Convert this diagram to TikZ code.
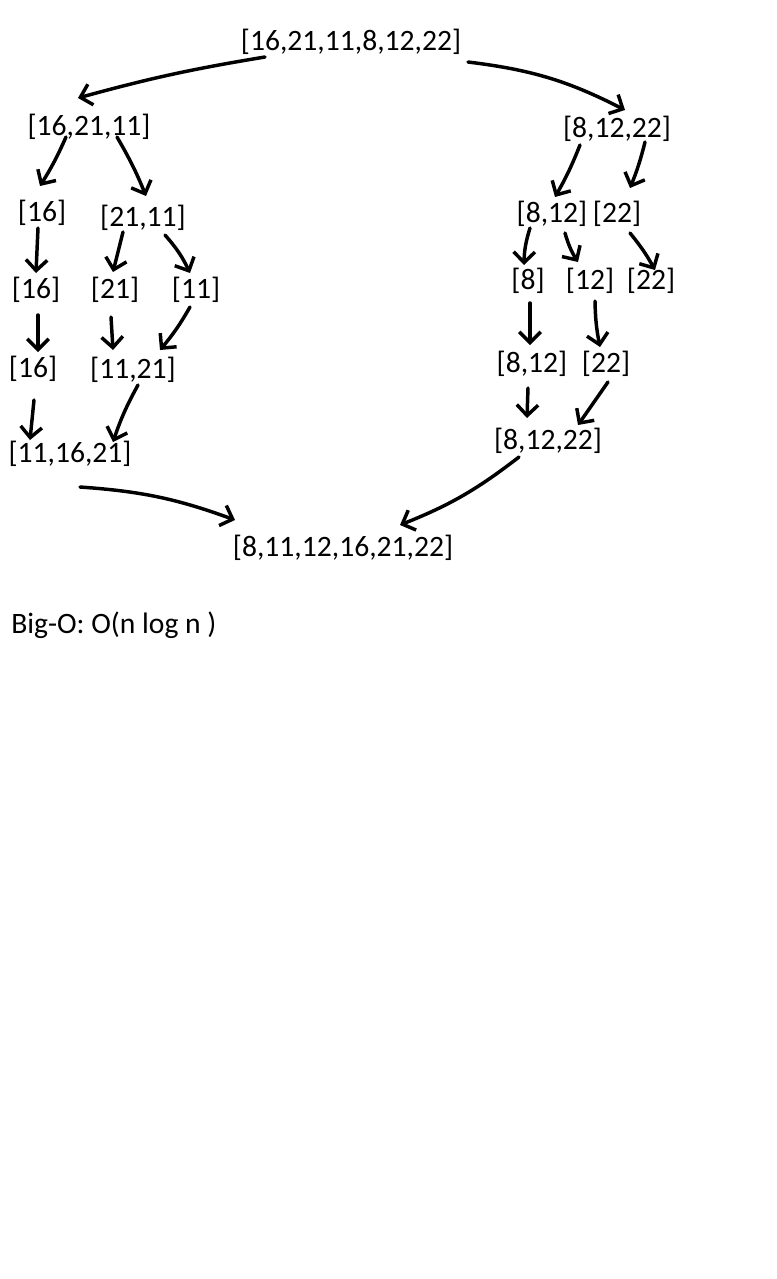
\documentclass[tikz,border=0pt]{standalone}
\usepackage{fontspec}
\setmainfont{Carlito}
\usetikzlibrary{arrows.meta}

\tikzset{
  lbl/.style={inner sep=0pt, font=\fontsize{22.2}{26}\selectfont},
  arr/.style={-{Straight Barb[length=8pt,width=16pt]}, line width=2.6pt, line cap=round, line join=round}
}

\begin{document}
\begin{tikzpicture}[x=0.75pt,y=0.75pt]
\useasboundingbox (0,0) rectangle (776,-1279);

\node[lbl] (T) at (351,-42) {[16,21,11,8,12,22]};
\node[lbl] (L) at (89,-127) {[16,21,11]};
\node[lbl] (R) at (617,-129) {[8,12,22]};

\node[lbl] (La) at (42,-213) {[16]};
\node[lbl] (Lb) at (143,-218) {[21,11]};
\node[lbl] (Ra) at (552,-214) {[8,12]};
\node[lbl] (Rb) at (617,-214) {[22]};

\node[lbl] (La1) at (36,-290) {[16]};
\node[lbl] (Lb1) at (115,-290) {[21]};
\node[lbl] (Lb2) at (196,-290) {[11]};
\node[lbl] (Ra1) at (528,-281) {[8]};
\node[lbl] (Ra2) at (590,-281) {[12]};
\node[lbl] (Rb1) at (651,-281) {[22]};

\node[lbl] (Lm1) at (33,-369) {[16]};
\node[lbl] (Lm2) at (133,-370) {[11,21]};
\node[lbl] (Rm1) at (532,-364) {[8,12]};
\node[lbl] (Rm2) at (606,-364) {[22]};

\node[lbl] (Lm) at (70,-454) {[11,16,21]};
\node[lbl] (Rm) at (548,-441) {[8,12,22]};

\node[lbl] (B) at (343,-548) {[8,11,12,16,21,22]};
\node[lbl, anchor=west] (O) at (11,-625) {Big-O: O(n log n )};

\draw[arr] ([shift={(-86,-15)}]T.center) to[bend right=3] ([shift={(-11,29)}]L.center);
\draw[arr] ([shift={(117,-20)}]T.center) to[bend left=10] ([shift={(8,19)}]R.center);

\draw[arr] ([shift={(-23,-10)}]L.center) to[bend left=4] ([shift={(-2,27)}]La.center);
\draw[arr] ([shift={(28,-10)}]L.center) to[bend left=4] ([shift={(3,22)}]Lb.center);
\draw[arr] ([shift={(-37,-16)}]R.center) to[bend left=4] ([shift={(3,17)}]Ra.center);
\draw[arr] ([shift={(28,-13)}]R.center) to[bend left=4] ([shift={(13,26)}]Rb.center);

\draw[arr] ([shift={(-4,-15)}]La.center) -- ([shift={(0,17)}]La1.center);
\draw[arr] ([shift={(-20,-14)}]Lb.center) -- ([shift={(-2,18)}]Lb1.center);
\draw[arr] ([shift={(22,-17)}]Lb.center) to[bend left=8] ([shift={(-6,17)}]Lb2.center);
\draw[arr] ([shift={(-22,-14)}]Ra.center) to[bend right=8] ([shift={(-4,16)}]Ra1.center);
\draw[arr] ([shift={(13,-19)}]Ra.center) to[bend right=8] ([shift={(-12,19)}]Ra2.center);
\draw[arr] ([shift={(13,-19)}]Rb.center) to[bend left=5] ([shift={(4,11)}]Rb1.center);

\draw[arr] ([shift={(2,-25)}]La1.center) -- ([shift={(5,17)}]Lm1.center);
\draw[arr] ([shift={(-4,-27)}]Lb1.center) -- ([shift={(-20,20)}]Lm2.center);
\draw[arr] ([shift={(-6,-17)}]Lb2.center) to[bend left=5] ([shift={(27,20)}]Lm2.center);
\draw[arr] ([shift={(2,-22)}]Ra1.center) -- ([shift={(-2,19)}]Rm1.center);
\draw[arr] ([shift={(5,-20)}]Ra2.center) to[bend right=5] ([shift={(-6,17)}]Rm2.center);

\draw[arr] ([shift={(1,-31)}]Lm1.center) -- ([shift={(-40,14)}]Lm.center);
\draw[arr] ([shift={(5,-15)}]Lm2.center) to[bend right=5] ([shift={(43,12)}]Lm.center);
\draw[arr] ([shift={(-4,-24)}]Rm1.center) -- ([shift={(-21,23)}]Rm.center);
\draw[arr] ([shift={(2,-18)}]Rm2.center) -- ([shift={(30,16)}]Rm.center);

\draw[arr] ([shift={(10,-33)}]Lm.center) to[bend left=8] ([shift={(-108,28)}]B.center);
\draw[arr] ([shift={(-29,-16)}]Rm.center) to[bend left=8] ([shift={(57,23)}]B.center);
\end{tikzpicture}
\end{document}
